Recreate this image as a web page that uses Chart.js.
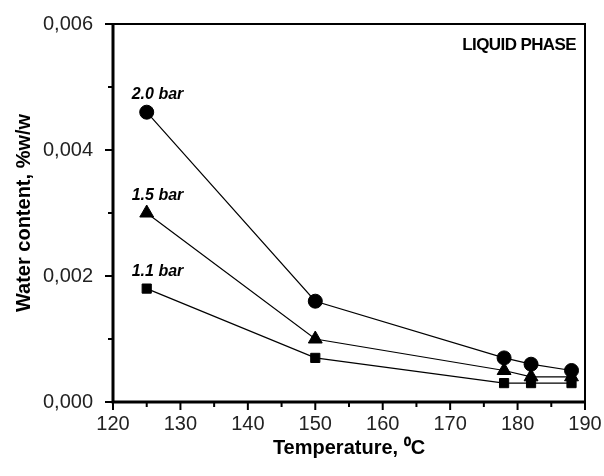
<!DOCTYPE html>
<html>
<head>
<meta charset="utf-8">
<script src="https://cdn.jsdelivr.net/npm/chart.js@4"></script>
<style>
  html, body { margin: 0; padding: 0; background: #fff; }
  #wrap { width: 604px; height: 476px; }
</style>
</head>
<body>
<div id="wrap"><canvas id="chart" width="604" height="476"></canvas></div>
<script>
const temperatures = [125, 150, 178, 182, 188];
const bar20 = [0.0046, 0.0016, 0.0007, 0.0006, 0.0005];
const bar15 = [0.0030, 0.0010, 0.0005, 0.0004, 0.0004];
const bar11 = [0.0018, 0.0007, 0.0003, 0.0003, 0.0003];
const seriesLabels = ['2.0 bar', '1.5 bar', '1.1 bar'];
const xTitle = 'Temperature, \u2070C';
const yTitle = 'Water content, %w/w';
const phaseLabel = 'LIQUID PHASE';

const FONT = '"Liberation Sans", Arial, sans-serif';

function toPoints(values) {
  return temperatures.map((t, i) => ({ x: t, y: values[i] }));
}

function makeSet(label, values, style, radius) {
  return {
    label: label,
    data: toPoints(values),
    showLine: true,
    borderColor: '#000',
    backgroundColor: '#000',
    borderWidth: 1.2,
    pointStyle: style,
    pointRadius: radius,
    pointBorderWidth: 1,
    tension: 0
  };
}

// frame, minor ticks, text labels
const decorPlugin = {
  id: 'decor',
  afterDraw(chart) {
    const ctx = chart.ctx;
    const a = chart.chartArea;
    const xs = chart.scales.x;
    const ys = chart.scales.y;
    ctx.save();
    ctx.strokeStyle = '#000';

    // ticks
    ctx.lineWidth = 2;
    for (let v = 120; v <= 190; v += 5) {
      const px = xs.getPixelForValue(v);
      const len = v % 10 === 0 ? 8 : 5;
      ctx.beginPath();
      ctx.moveTo(px, a.bottom);
      ctx.lineTo(px, a.bottom + len);
      ctx.stroke();
    }
    for (let k = 0; k <= 6; k++) {
      const py = ys.getPixelForValue(k / 1000);
      const len = k % 2 === 0 ? 8 : 5;
      ctx.beginPath();
      ctx.moveTo(a.left, py);
      ctx.lineTo(a.left - len, py);
      ctx.stroke();
    }

    // frame
    ctx.lineWidth = 2;
    ctx.beginPath();
    ctx.moveTo(a.left, a.top);
    ctx.lineTo(a.right, a.top);
    ctx.lineTo(a.right, a.bottom);
    ctx.stroke();
    ctx.lineWidth = 3;
    ctx.beginPath();
    ctx.moveTo(a.left, a.top - 1);
    ctx.lineTo(a.left, a.bottom);
    ctx.lineTo(a.right + 1, a.bottom);
    ctx.stroke();

    // series labels above the first point
    ctx.fillStyle = '#000';
    ctx.font = 'italic bold 16px ' + FONT;
    ctx.textAlign = 'left';
    ctx.textBaseline = 'alphabetic';
    [bar20, bar15, bar11].forEach((vals, i) => {
      const px = xs.getPixelForValue(temperatures[0]);
      const py = ys.getPixelForValue(vals[0]);
      ctx.fillText(seriesLabels[i], px - 15, py - 13);
    });

    // phase label
    ctx.font = 'bold 17px ' + FONT;
    ctx.letterSpacing = '-0.6px';
    ctx.textAlign = 'right';
    ctx.textBaseline = 'middle';
    ctx.fillText(phaseLabel, a.right - 9, a.top + 21);
    ctx.restore();
  }
};

new Chart(document.getElementById('chart'), {
  type: 'scatter',
  data: {
    datasets: [
      makeSet(seriesLabels[0], bar20, 'circle', 7),
      makeSet(seriesLabels[1], bar15, 'triangle', 8),
      makeSet(seriesLabels[2], bar11, 'rect', 6.5)
    ]
  },
  options: {
    responsive: false,
    animation: false,
    layout: { padding: { top: 24, right: 19, left: 0, bottom: 0 } },
    plugins: {
      legend: { display: false },
      tooltip: { enabled: false }
    },
    scales: {
      x: {
        type: 'linear',
        min: 120,
        max: 190,
        grid: { display: false },
        border: { display: false },
        ticks: {
          stepSize: 10,
          padding: 2,
          color: '#222',
          font: { family: FONT, size: 20 },
          maxRotation: 0
        },
        title: {
          display: true,
          text: xTitle,
          color: '#000',
          font: { family: FONT, size: 20, weight: 'bold' },
          padding: { top: 4, bottom: 16 }
        },
        afterFit(scale) { scale.height = 74; }
      },
      y: {
        min: 0,
        max: 0.006,
        grid: { display: false },
        border: { display: false },
        ticks: {
          stepSize: 0.002,
          padding: 12,
          color: '#222',
          font: { family: FONT, size: 20 },
          callback: v => v.toFixed(3).replace('.', ',')
        },
        title: {
          display: true,
          text: yTitle,
          color: '#000',
          font: { family: FONT, size: 20, weight: 'bold' },
          padding: { top: 12, bottom: 4 }
        },
        afterFit(scale) { scale.width = 113; }
      }
    }
  },
  plugins: [decorPlugin]
});
</script>
</body>
</html>
